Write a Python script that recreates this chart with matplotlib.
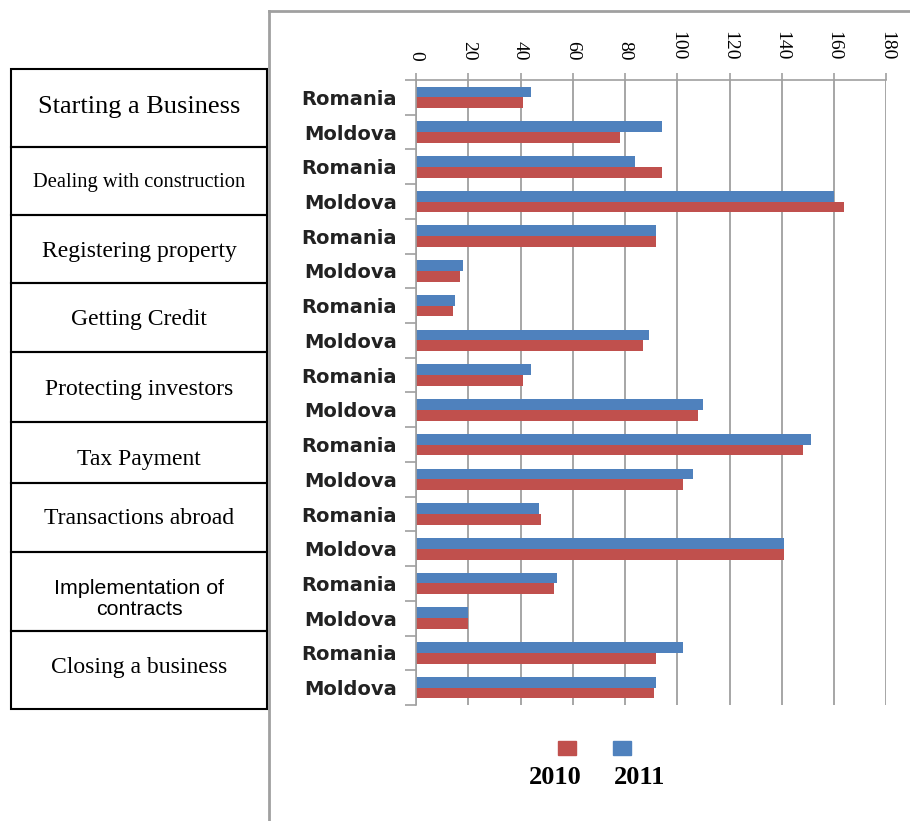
import numpy as np
import matplotlib.pyplot as plt
from matplotlib.patches import Rectangle
from matplotlib.lines import Line2D

W, H = 910, 821

# categories, top to bottom
countries = ["Romania", "Moldova"] * 9
indicators = ["Starting a Business", "Dealing with construction", "Registering property",
              "Getting Credit", "Protecting investors", "Tax Payment",
              "Transactions abroad", "Implementation of\ncontracts", "Closing a business"]

# rankings
v2010 = [41, 78, 94, 164, 92, 17, 14, 87, 41, 108, 148, 102, 48, 141, 53, 20, 92, 91]
v2011 = [44, 94, 84, 160, 92, 18, 15, 89, 44, 110, 151, 106, 47, 141, 54, 20, 102, 92]

c2010 = "#C0504D"
c2011 = "#4F81BD"

xticks = np.arange(0, 181, 20)


def fx(x):
    return x / W


def fy(y):
    return 1 - y / H


fig = plt.figure(figsize=(9.1, 8.21), dpi=100)

# main chart
ax = fig.add_axes([fx(416), fy(705), fx(886.3) - fx(416), fy(80) - fy(705)])
y = np.arange(len(countries))
bh = 0.31
ax.barh(y - bh / 2, v2011, height=bh, color=c2011)
ax.barh(y + bh / 2, v2010, height=bh, color=c2010)

ax.set_xlim(0, 180)
ax.set_ylim(len(countries) - 0.5, -0.5)

ax.xaxis.tick_top()
ax.set_xticks(xticks)
ax.set_xticklabels([str(t) for t in xticks], rotation=-90, family="Liberation Serif",
                   fontsize=14)
ax.tick_params(axis="x", length=5, color="#A0A0A0", width=1.2, pad=9)
ax.grid(axis="x", color="#A6A6A6", linewidth=1.4)
ax.set_axisbelow(True)

ax.set_yticks(y)
ax.set_yticklabels(countries, fontsize=14, fontweight="bold", family="DejaVu Sans",
                   color="#222222")
ax.tick_params(axis="y", length=0, pad=14)
ax.set_yticks(np.arange(-0.5, len(countries)), minor=True)
ax.tick_params(axis="y", which="minor", length=8, color="#A0A0A0", width=1.2)

for s in ["right", "bottom"]:
    ax.spines[s].set_visible(False)
for s in ["left", "top"]:
    ax.spines[s].set_color("#A0A0A0")
    ax.spines[s].set_linewidth(1.2)

# chart area border (top and left only)
fig.add_artist(Line2D([fx(269), 1], [fy(11), fy(11)], color="#A0A0A0", lw=2))
fig.add_artist(Line2D([fx(269), fx(269)], [fy(11), 0], color="#A0A0A0", lw=2))

# left table of indicators
edges = [69, 147, 215, 283, 352, 422, 483, 552, 631, 709]
text_y = [107, 182, 251, 319, 389, 459, 519, 599, 667]
sizes = [19, 14.8, 17, 17, 17, 17, 17, 15.4, 17]
for i, name in enumerate(indicators):
    top, bot = edges[i], edges[i + 1]
    fig.add_artist(Rectangle((fx(11), fy(bot)), fx(267) - fx(11), fy(top) - fy(bot),
                             fill=False, edgecolor="black", lw=1.5))
    fam = "Liberation Sans" if "\n" in name else "Liberation Serif"
    fig.text(fx(139), fy(text_y[i]), name, ha="center", va="center",
             fontsize=sizes[i], family=fam, linespacing=1.1)

# legend: squares over the year labels
for xc, col in [(567, c2010), (622, c2011)]:
    fig.add_artist(Rectangle((fx(xc - 9), fy(755)), 18 / W, 14 / H, color=col))
for xc, lab in [(555, "2010"), (640, "2011")]:
    fig.text(fx(xc), fy(777), lab, ha="center", va="center", fontsize=19,
             fontweight="bold", family="Liberation Serif")

plt.savefig("out.png", dpi=100)
